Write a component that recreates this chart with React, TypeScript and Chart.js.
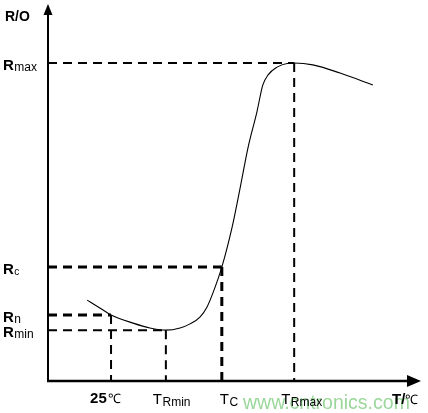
import React, { useEffect, useRef } from "react";
import { Chart, registerables } from "chart.js";

Chart.register(...registerables);

// Abstract temperature (x) and resistance (y) units, 0..100 along each axis
const curveT = [10.5, 13.9, 16.9, 22.8, 27.3, 31.6, 35.4, 38.1, 40.8, 42.6, 44.2, 46.6, 49.3, 51.5, 53.6, 56.0, 57.6, 59.0, 61.4, 64.1, 66.0, 71.0, 78.3, 87.1];
const curveR = [21.8, 19.7, 17.8, 15.6, 14.3, 13.7, 14.3, 15.4, 17.3, 19.9, 23.7, 30.7, 41.2, 52.0, 62.8, 72.5, 79.8, 82.5, 84.6, 85.6, 85.7, 85.2, 83.0, 79.8];

// Characteristic points
const guideNames = ["Rmax", "Rc", "Rn", "Rmin"];
const guideT = [66.0, 46.6, 16.9, 31.6];
const guideR = [85.7, 30.7, 17.8, 13.7];

// Tick-like labels
const yLabelMain = ["R", "R", "R", "R"];
const yLabelSub = ["max", "c", "n", "min"];
const xLabelMain = ["25", "T", "T", "T"];
const xLabelSub = ["℃", "Rmin", "C", "Rmax"];
const xLabelT = [16.9, 31.6, 46.6, 66.0];
const yAxisTitle = "R/O";
const xAxisTitle = ["T/", "℃"];
const watermark = "www.cntronics.com";

const FONT = "'Liberation Sans', Arial, sans-serif";

export default function App() {
  const ref = useRef<HTMLCanvasElement | null>(null);

  useEffect(() => {
    document.body.style.margin = "0";
    const canvas = ref.current;
    if (!canvas) return;

    const thick = [2, 3, 3, 2]; // horizontal widths per guide
    const thickV = [2, 3, 2, 2]; // vertical widths per guide

    const datasets: any[] = [];
    guideNames.forEach((name, i) => {
      datasets.push({
        label: name + "-h",
        data: [
          { x: 0, y: guideR[i] },
          { x: guideT[i], y: guideR[i] },
        ],
        borderColor: "#000",
        borderWidth: thick[i],
        borderDash: [9, 6],
        pointRadius: 0,
        clip: false,
      });
      datasets.push({
        label: name + "-v",
        data: [
          { x: guideT[i], y: guideR[i] },
          { x: guideT[i], y: 0 },
        ],
        borderColor: "#000",
        borderWidth: thickV[i],
        borderDash: [9, 6],
        pointRadius: 0,
        clip: false,
      });
    });
    datasets.push({
      label: "curve",
      data: curveT.map((t, i) => ({ x: t, y: curveR[i] })),
      borderColor: "#000",
      borderWidth: 1.1,
      pointRadius: 0,
      cubicInterpolationMode: "monotone",
      clip: false,
    });

    const decor = {
      id: "decor",
      beforeDatasetsDraw(chart: any) {
        const ctx = chart.ctx as CanvasRenderingContext2D;
        ctx.save();
        // watermark
        ctx.fillStyle = "#9bd79b";
        ctx.font = `19.5px ${FONT}`;
        ctx.textBaseline = "alphabetic";
        ctx.fillText(watermark, 243, 409);
        ctx.restore();
      },
      afterDatasetsDraw(chart: any) {
        const ctx = chart.ctx as CanvasRenderingContext2D;
        const xs = chart.scales.x;
        const ys = chart.scales.y;
        const x0 = xs.getPixelForValue(0);
        const y0 = ys.getPixelForValue(0);
        const xEnd = xs.getPixelForValue(100);
        const yEnd = ys.getPixelForValue(100);
        ctx.save();
        ctx.strokeStyle = "#000";
        ctx.fillStyle = "#000";
        ctx.setLineDash([]);
        // y axis
        ctx.lineWidth = 2;
        ctx.beginPath();
        ctx.moveTo(x0, y0 + 1);
        ctx.lineTo(x0, yEnd);
        ctx.stroke();
        ctx.beginPath();
        ctx.moveTo(x0, yEnd - 6);
        ctx.lineTo(x0 - 4.5, yEnd + 5);
        ctx.lineTo(x0 + 4.5, yEnd + 5);
        ctx.closePath();
        ctx.fill();
        // x axis
        ctx.lineWidth = 2.5;
        ctx.beginPath();
        ctx.moveTo(x0 - 1, y0);
        ctx.lineTo(xEnd - 12, y0);
        ctx.stroke();
        ctx.beginPath();
        ctx.moveTo(xEnd, y0);
        ctx.lineTo(xEnd - 14, y0 - 6);
        ctx.lineTo(xEnd - 14, y0 + 6);
        ctx.closePath();
        ctx.fill();

        ctx.textBaseline = "alphabetic";
        ctx.textAlign = "left";
        // y labels
        guideR.forEach((r, i) => {
          const py = ys.getPixelForValue(r);
          ctx.font = `bold 15px ${FONT}`;
          ctx.fillText(yLabelMain[i], 3, py + 7);
          const w = ctx.measureText(yLabelMain[i]).width;
          ctx.font = `${yLabelSub[i] === "c" ? 10 : 12}px ${FONT}`;
          ctx.fillText(yLabelSub[i], 3 + w + 0.5, py + 8);
        });
        // x labels
        xLabelT.forEach((t, i) => {
          const px = xs.getPixelForValue(t);
          if (i === 0) {
            ctx.font = `bold 15px ${FONT}`;
            ctx.fillText(xLabelMain[i], px - 21, y0 + 22);
            const w = ctx.measureText(xLabelMain[i]).width;
            ctx.font = `13px ${FONT}`;
            ctx.fillText(xLabelSub[i], px - 21 + w + 1, y0 + 22);
          } else {
            const dx = i === 2 ? -2 : -13;
            ctx.font = `15px ${FONT}`;
            ctx.fillText(xLabelMain[i], px + dx, y0 + 23);
            const w = ctx.measureText(xLabelMain[i]).width;
            ctx.font = `12px ${FONT}`;
            ctx.fillText(xLabelSub[i], px + dx + w + 0.5, y0 + 25);
          }
        });
        // axis titles
        ctx.font = `bold 14px ${FONT}`;
        ctx.fillText(yAxisTitle, 5, 21);
        ctx.font = `bold 15px ${FONT}`;
        ctx.fillText(xAxisTitle[0], 392, y0 + 23);
        const tw = ctx.measureText(xAxisTitle[0]).width;
        ctx.font = `13px ${FONT}`;
        ctx.fillText(xAxisTitle[1], 392 + tw, y0 + 23);
        ctx.restore();
      },
    };

    const chart = new Chart(canvas, {
      type: "line",
      data: { datasets },
      options: {
        animation: false,
        responsive: false,
        devicePixelRatio: 1,
        layout: { padding: { left: 48, right: 7, top: 10, bottom: 32 } },
        plugins: { legend: { display: false }, tooltip: { enabled: false } },
        scales: {
          x: { type: "linear", min: 0, max: 100, display: false },
          y: { type: "linear", min: 0, max: 100, display: false },
        },
      },
      plugins: [decor],
    });
    return () => chart.destroy();
  }, []);

  return (
    <div style={{ position: "absolute", left: 0, top: 0, width: 428, height: 413, background: "#fff" }}>
      <canvas ref={ref} width={428} height={413} />
    </div>
  );
}
